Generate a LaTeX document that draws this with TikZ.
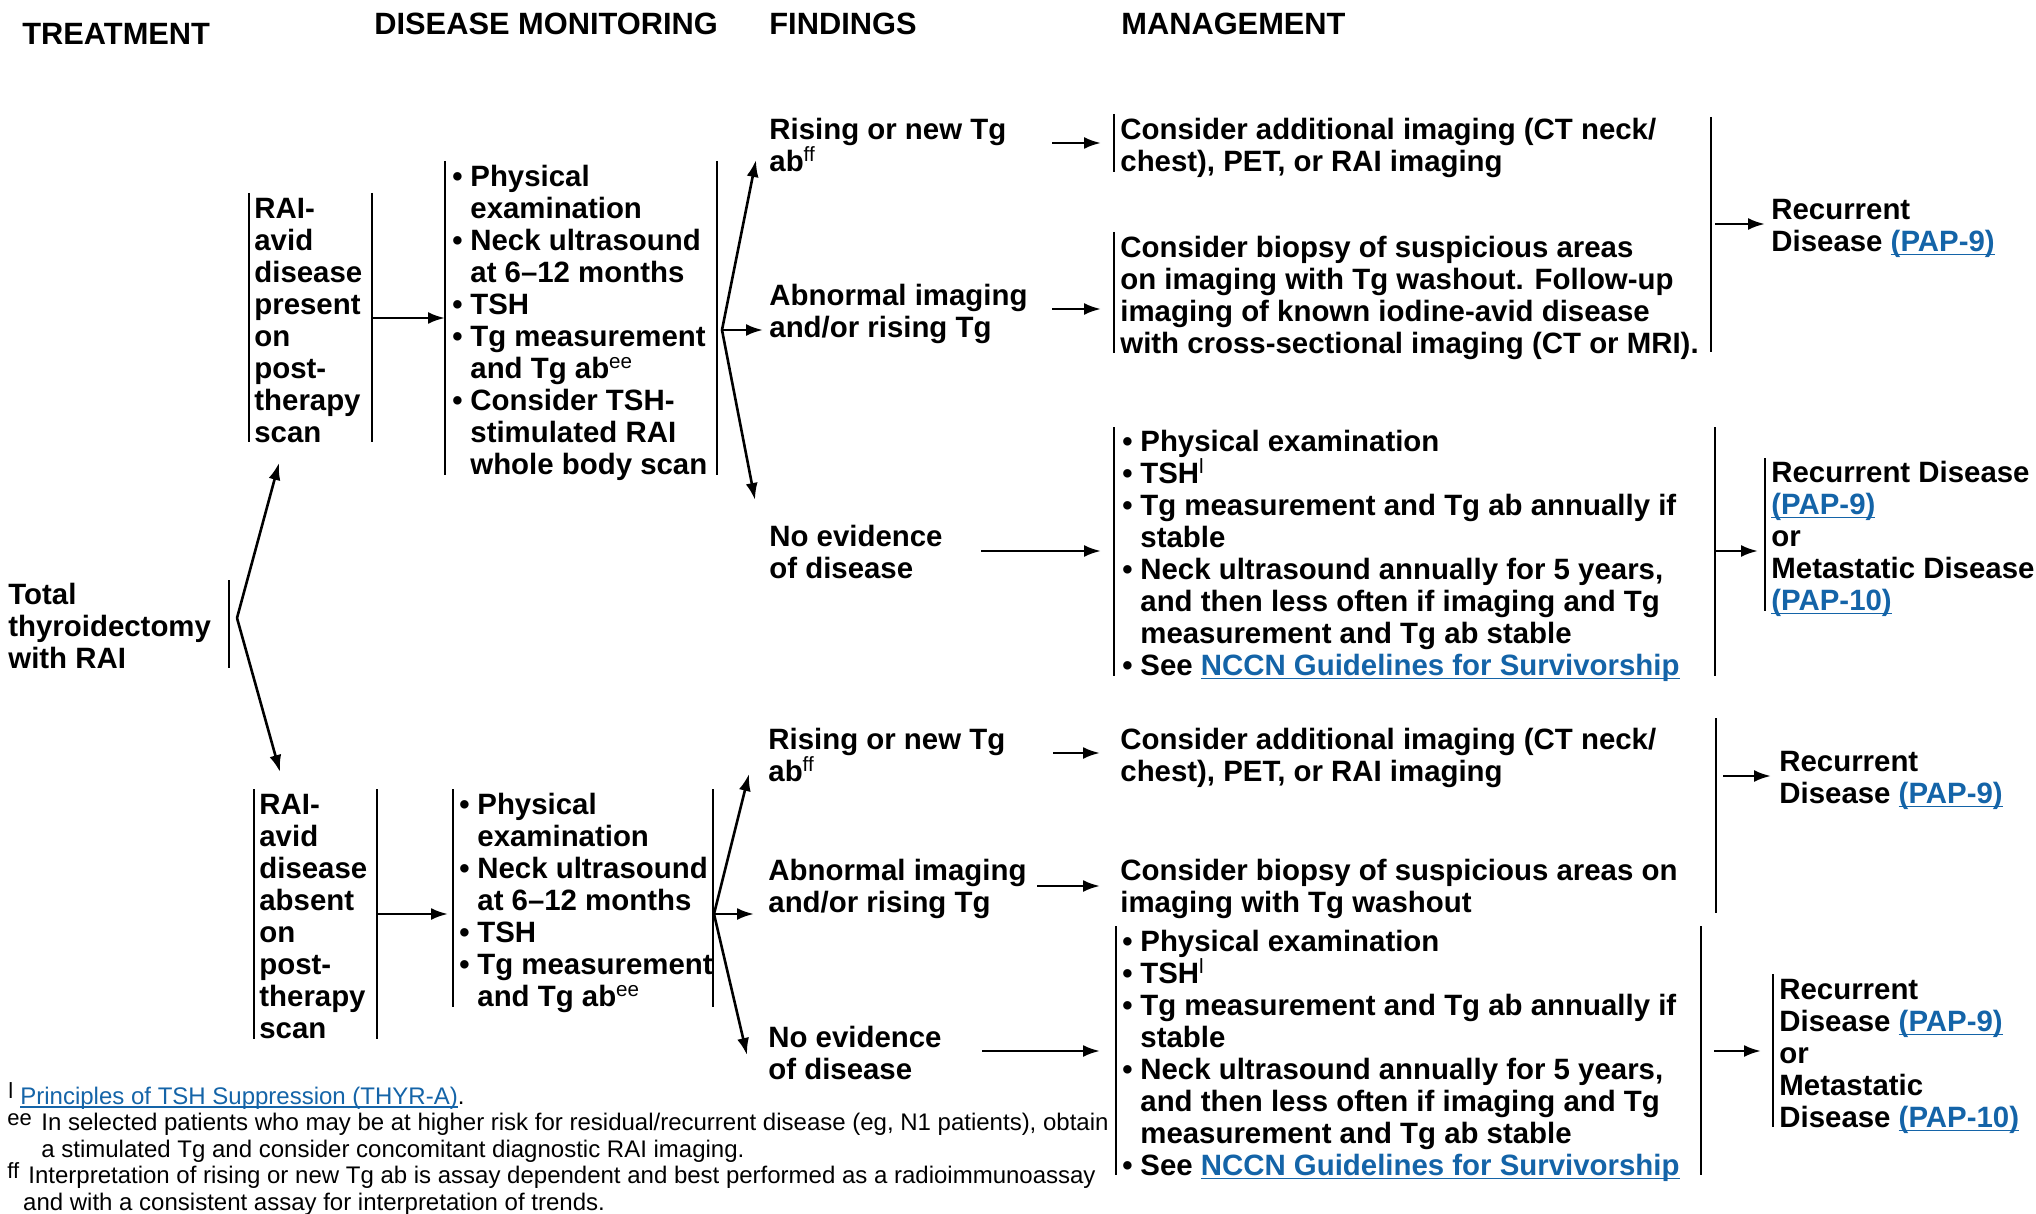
\documentclass[tikz,border=0pt]{standalone}
\usepackage{fontspec}
\setmainfont{Liberation Sans}
\usetikzlibrary{arrows.meta}
\definecolor{linkblue}{RGB}{20,100,168}
% underlined hyperlink-style text
\newcommand{\lnk}[1]{{\color{linkblue}\setbox0\hbox{#1}\rlap{\rule[-1.8pt]{\wd0}{0.75pt}}\box0}}
% bullet with hanging indent
\newcommand{\bul}{\makebox[9pt][l]{\textbullet}}
\newcommand{\hang}{\hspace*{9pt}}
\newcommand{\sups}[1]{\textsuperscript{\mdseries #1}}

\begin{document}
\begin{tikzpicture}[x=0.5pt,y=-0.5pt,
  body/.style={anchor=north west, inner sep=0pt, align=left, yshift=-1pt,
    font=\bfseries\fontsize{14.7}{16}\selectfont, execute at begin node=\strut},
  head/.style={anchor=base west, inner sep=0pt, font=\bfseries\fontsize{15.4}{18}\selectfont},
  foot/.style={anchor=north west, inner sep=0pt, align=left,
    font=\fontsize{12}{13.4}\selectfont, execute at begin node=\strut},
  footline/.style={anchor=base west, inner sep=0pt, font=\fontsize{12}{13.4}\selectfont},
  fmark/.style={anchor=base west, inner sep=0pt, font=\fontsize{11}{13}\selectfont},
  bar/.style={line width=1pt},
  arr/.style={line width=1.3pt, -{Latex[length=8.5pt,width=6pt]}},
]
\useasboundingbox (0,0) rectangle (2036,1214);

% ---------- column headings ----------
\node[head] (hTreat) at (22,45) {TREATMENT};
\node[head] (hMon)   at (374,35) {DISEASE MONITORING};
\node[head] (hFind)  at (769,35) {FINDINGS};
\node[head] (hMan)   at (1121,35) {MANAGEMENT};

% ---------- treatment ----------
\node[body] (tot) at (8,581) {Total\\thyroidectomy\\with RAI};
\draw[bar] (229,580) -- (229,668);
\coordinate (totOut) at (237,618);

% ---------- upper branch: RAI-avid disease present ----------
\node[body] (pres) at (254,196) {RAI-\\avid\\disease\\present\\on\\post-\\therapy\\scan};
\draw[bar] (249,193) -- (249,442);
\draw[bar] (372,193) -- (372,442);
\coordinate (presIn)  at (279,463);
\coordinate (presOut) at (372,318);

\node[body] (mon1) at (452,163) {\bul Physical\\\hang examination\\\bul Neck ultrasound\\\hang at 6–12 months\\\bul TSH\\\bul Tg measurement\\\hang and Tg ab\sups{ee}\\\bul Consider TSH-\\\hang stimulated RAI\\\hang whole body scan};
\draw[bar] (445,161) -- (445,475);
\draw[bar] (717,161) -- (717,475);
\coordinate (mon1In)  at (445,318);
\coordinate (mon1Out) at (722,330);

\node[body] (f1a) at (769,116) {Rising or new Tg\\ab\sups{ff}};
\node[body] (f1b) at (769,282) {Abnormal imaging\\and/or rising Tg};
\node[body] (f1c) at (769,523) {No evidence\\of disease};
\coordinate (f1aIn) at (756,160);
\coordinate (f1bIn) at (763,330);
\coordinate (f1cIn) at (755,500);
\coordinate (f1aOut) at (1052,143);
\coordinate (f1bOut) at (1052,309);
\coordinate (f1cOut) at (981,551);

\node[body] (m1) at (1120,116) {Consider additional imaging (CT neck/\\chest), PET, or RAI imaging};
\draw[bar] (1114,114) -- (1114,172);
\coordinate (m1In) at (1101,143);

\node[body] (m2) at (1120,234) {Consider biopsy of suspicious areas\\on imaging with Tg washout. Follow-up\\imaging of known iodine-avid disease\\with cross-sectional imaging (CT or MRI).};
\draw[bar] (1114,232) -- (1114,353);
\coordinate (m2In) at (1101,309);

\draw[bar] (1711,117) -- (1711,352);
\coordinate (m12Out) at (1715,224);

\node[body] (r1) at (1771,197) {Recurrent\\Disease \lnk{(PAP-9)}};
\coordinate (r1In) at (1765,224);

\node[body] (m3) at (1122,428) {\bul Physical examination\\\bul TSH\sups{l}\\\bul Tg measurement and Tg ab annually if\\\hang stable\\\bul Neck ultrasound annually for 5 years,\\\hang and then less often if imaging and Tg\\\hang measurement and Tg ab stable\\\bul See \lnk{NCCN Guidelines for Survivorship}};
\draw[bar] (1114,427) -- (1114,676);
\draw[bar] (1715,427) -- (1715,676);
\coordinate (m3In)  at (1101,551);
\coordinate (m3Out) at (1715,551);

\node[body] (r2) at (1771,459) {Recurrent Disease\\\lnk{(PAP-9)}\\or\\Metastatic Disease\\\lnk{(PAP-10)}};
\draw[bar] (1765,458) -- (1765,611);
\coordinate (r2In) at (1758,551);

% ---------- lower branch: RAI-avid disease absent ----------
\node[body] (abs) at (259,792) {RAI-\\avid\\disease\\absent\\on\\post-\\therapy\\scan};
\draw[bar] (254,789) -- (254,1039);
\draw[bar] (377,789) -- (377,1039);
\coordinate (absIn)  at (280,772);
\coordinate (absOut) at (377,914);

\node[body] (mon2) at (459,791) {\bul Physical\\\hang examination\\\bul Neck ultrasound\\\hang at 6–12 months\\\bul TSH\\\bul Tg measurement\\\hang and Tg ab\sups{ee}};
\draw[bar] (453,789) -- (453,1007);
\draw[bar] (713,789) -- (713,1007);
\coordinate (mon2In)  at (448,914);
\coordinate (mon2Out) at (714,914);

\node[body] (f2a) at (768,726) {Rising or new Tg\\ab\sups{ff}};
\node[body] (f2b) at (768,857) {Abnormal imaging\\and/or rising Tg};
\node[body] (f2c) at (768,1024) {No evidence\\of disease};
\coordinate (f2aIn) at (749,774);
\coordinate (f2bIn) at (754,914);
\coordinate (f2cIn) at (747,1055);
\coordinate (f2aOut) at (1053,753);
\coordinate (f2bOut) at (1037,886);
\coordinate (f2cOut) at (982,1051);

\node[body] (m4) at (1120,726) {Consider additional imaging (CT neck/\\chest), PET, or RAI imaging};
\coordinate (m4In) at (1100,753);
\node[body] (m5) at (1120,857) {Consider biopsy of suspicious areas on\\imaging with Tg washout};
\coordinate (m5In) at (1100,886);
\draw[bar] (1716,718) -- (1716,913);
\coordinate (m45Out) at (1723,776);

\node[body] (r3) at (1779,749) {Recurrent\\Disease \lnk{(PAP-9)}};
\coordinate (r3In) at (1771,776);

\node[body] (m6) at (1122,928) {\bul Physical examination\\\bul TSH\sups{l}\\\bul Tg measurement and Tg ab annually if\\\hang stable\\\bul Neck ultrasound annually for 5 years,\\\hang and then less often if imaging and Tg\\\hang measurement and Tg ab stable\\\bul See \lnk{NCCN Guidelines for Survivorship}};
\draw[bar] (1116,926) -- (1116,1175);
\draw[bar] (1701,926) -- (1701,1175);
\coordinate (m6In)  at (1100,1051);
\coordinate (m6Out) at (1714,1051);

\node[body] (r4) at (1779,977) {Recurrent\\Disease \lnk{(PAP-9)}\\or\\Metastatic\\Disease \lnk{(PAP-10)}};
\draw[bar] (1773,974) -- (1773,1127);
\coordinate (r4In) at (1761,1051);

% ---------- connectors ----------
\draw[arr] (totOut) -- (presIn);
\draw[arr] (totOut) -- (absIn);
\draw[arr] (presOut) -- (mon1In);
\draw[arr] (mon1Out) -- (f1aIn);
\draw[arr] (mon1Out) -- (f1bIn);
\draw[arr] (mon1Out) -- (f1cIn);
\draw[arr] (f1aOut) -- (m1In);
\draw[arr] (f1bOut) -- (m2In);
\draw[arr] (f1cOut) -- (m3In);
\draw[arr] (m12Out) -- (r1In);
\draw[arr] (m3Out) -- (r2In);

\draw[arr] (absOut) -- (mon2In);
\draw[arr] (mon2Out) -- (f2aIn);
\draw[arr] (mon2Out) -- (f2bIn);
\draw[arr] (mon2Out) -- (f2cIn);
\draw[arr] (f2aOut) -- (m4In);
\draw[arr] (f2bOut) -- (m5In);
\draw[arr] (f2cOut) -- (m6In);
\draw[arr] (m45Out) -- (r3In);
\draw[arr] (m6Out) -- (r4In);

% ---------- footnotes ----------
\node[fmark]    (fmL)  at (8,1098) {l};
\node[footline] (fnL)  at (20,1104) {\lnk{Principles of TSH Suppression (THYR-A)}.};
\node[fmark]    (fmEE) at (7,1125) {ee};
\node[foot]     (fnEE) at (41,1113) {In selected patients who may be at higher risk for residual/recurrent disease (eg, N1 patients), obtain\\a stimulated Tg and consider concomitant diagnostic RAI imaging.};
\node[fmark]    (fmFF) at (7,1178) {ff};
\node[foot]     (fnFF) at (28,1166) {Interpretation of rising or new Tg ab is assay dependent and best performed as a radioimmunoassay\\\hspace*{-2.6pt}and with a consistent assay for interpretation of trends.};
\end{tikzpicture}
\end{document}
